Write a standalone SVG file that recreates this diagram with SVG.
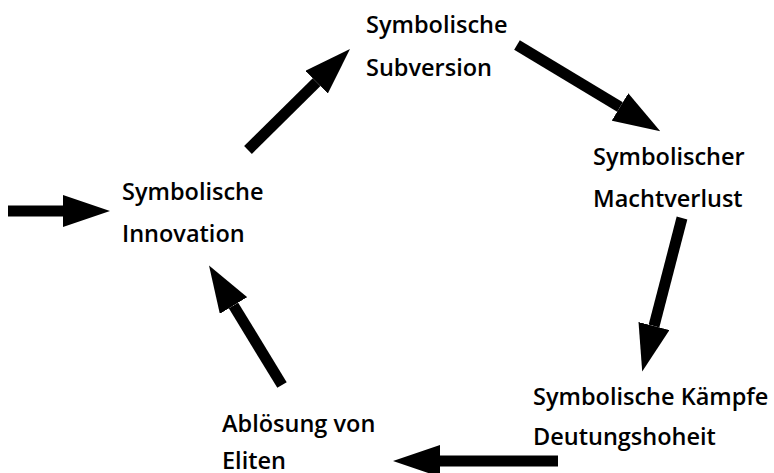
<svg xmlns="http://www.w3.org/2000/svg" width="774" height="473" viewBox="0 0 774 473">
<style>
text{font-family:"Open Sans","Noto Sans","Liberation Sans",sans-serif;font-weight:600;font-size:23.5px;fill:#000}
.a{stroke:#000;stroke-width:11;fill:none;marker-end:url(#h)}
</style>
<defs>
<marker id="h" viewBox="0 0 47 32" refX="0" refY="16" markerWidth="47" markerHeight="32" markerUnits="userSpaceOnUse" orient="auto">
<path d="M0,0L47,16L0,32Z" fill="#000"/>
</marker>
</defs>
<rect width="774" height="473" fill="#fff"/>
<g id="connectors">
<line class="a" x1="8" y1="211" x2="63" y2="211"/>
<line class="a" x1="248" y1="150" x2="316.6" y2="82.1"/>
<line class="a" x1="517" y1="45" x2="620" y2="107"/>
<line class="a" x1="682" y1="218" x2="654" y2="326"/>
<line class="a" x1="558" y1="461" x2="440" y2="461"/>
<line class="a" x1="282" y1="385" x2="233.5" y2="305.5"/>
</g>
<g id="subversion"><text x="366" y="33">Symbolische</text><text x="366" y="76">Subversion</text></g>
<g id="innovation"><text x="122" y="200">Symbolische</text><text x="122" y="242">Innovation</text></g>
<g id="machtverlust"><text x="593" y="165">Symbolischer</text><text x="593" y="207">Machtverlust</text></g>
<g id="kaempfe"><text x="533" y="405">Symbolische Kämpfe</text><text x="533" y="445">Deutungshoheit</text></g>
<g id="eliten"><text x="222" y="432">Ablösung von</text><text x="222" y="469">Eliten</text></g>
</svg>
